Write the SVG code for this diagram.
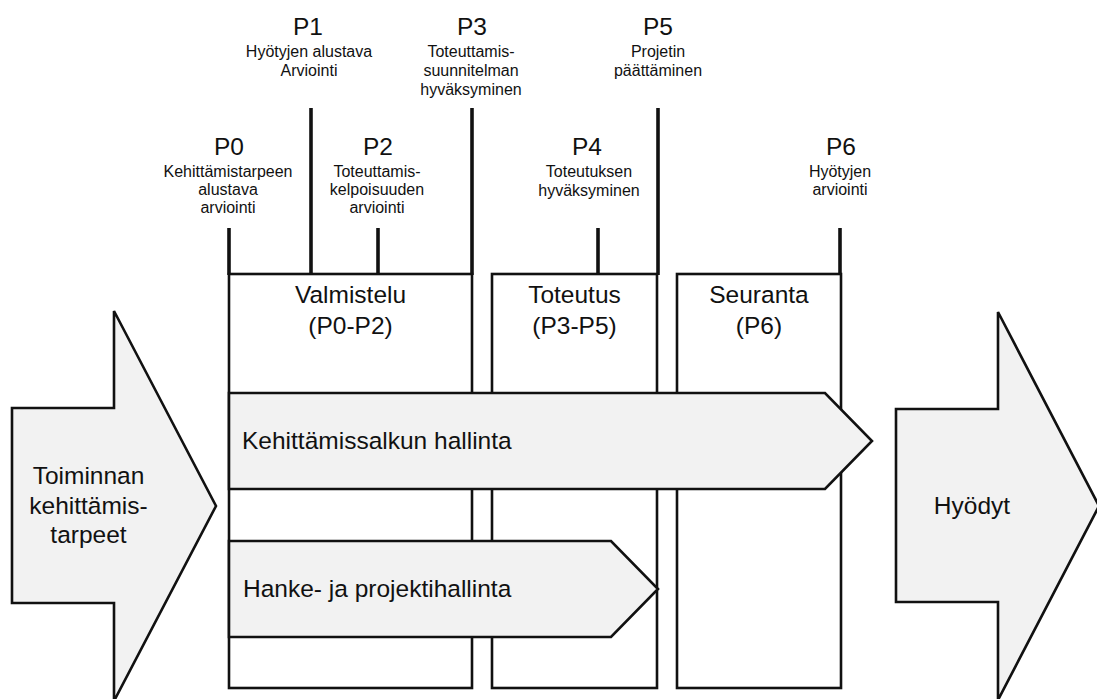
<svg xmlns="http://www.w3.org/2000/svg" width="1097" height="699" viewBox="0 0 1097 699">
  <style>
    text { font-family: "Liberation Sans", Arial, sans-serif; fill: #111; }
    .big { font-size: 24.5px; }
    .small { font-size: 16px; }
    .mid { text-anchor: middle; }
    .phase { fill: #fff; stroke: #111; stroke-width: 2.6; }
    .band { fill: #f2f2f2; stroke: #111; stroke-width: 2.6; stroke-linejoin: miter; }
    .tick { stroke: #111; stroke-width: 3.6; fill: none; }
  </style>

  <!-- Phase boxes -->
  <g id="valmistelu">
    <rect class="phase" x="229" y="274" width="243" height="414"/>
    <text class="big mid" x="350.5" y="303">Valmistelu</text>
    <text class="big mid" x="350.5" y="334">(P0-P2)</text>
  </g>
  <g id="toteutus">
    <rect class="phase" x="492" y="274" width="165" height="414"/>
    <text class="big mid" x="574.5" y="303">Toteutus</text>
    <text class="big mid" x="574.5" y="334">(P3-P5)</text>
  </g>
  <g id="seuranta">
    <rect class="phase" x="677" y="274" width="164" height="414"/>
    <text class="big mid" x="759" y="303">Seuranta</text>
    <text class="big mid" x="759" y="334">(P6)</text>
  </g>

  <!-- Input and output arrows -->
  <g id="toiminnan-kehittamistarpeet">
    <polygon class="band" points="12,408 114,408 114,311 216,506 114,701 114,603 12,603"/>
    <text class="big mid" x="88.5" y="484">Toiminnan</text>
    <text class="big mid" x="88.5" y="514">kehittämis-</text>
    <text class="big mid" x="88.5" y="543">tarpeet</text>
  </g>
  <g id="hyodyt">
    <polygon class="band" points="896,409 998,409 998,312 1099,506 998,700 998,602 896,602"/>
    <text class="big mid" x="972" y="514">Hyödyt</text>
  </g>

  <!-- Management bands across the phases -->
  <g id="kehittamissalkun-hallinta">
    <polygon class="band" points="229,393 825,393 872,441 825,489 229,489"/>
    <text class="big" x="242" y="449">Kehittämissalkun hallinta</text>
  </g>
  <g id="hanke-ja-projektihallinta">
    <polygon class="band" points="229,541 611,541 658,589 611,637 229,637"/>
    <text class="big" x="243" y="597">Hanke- ja projektihallinta</text>
  </g>

  <!-- Milestone ticks -->
  <g id="connectors">
    <line class="tick" x1="229" y1="228" x2="229" y2="275"/>
    <line class="tick" x1="311" y1="108" x2="311" y2="275"/>
    <line class="tick" x1="378" y1="228" x2="378" y2="275"/>
    <line class="tick" x1="472" y1="108" x2="472" y2="275"/>
    <line class="tick" x1="598" y1="228" x2="598" y2="275"/>
    <line class="tick" x1="658" y1="108" x2="658" y2="275"/>
    <line class="tick" x1="840" y1="228" x2="840" y2="275"/>
  </g>

  <!-- Milestone labels -->
  <g id="p0">
    <text class="big mid" x="229" y="155">P0</text>
    <text class="small mid" x="228" y="177">Kehittämistarpeen</text>
    <text class="small mid" x="228" y="195">alustava</text>
    <text class="small mid" x="228" y="213">arviointi</text>
  </g>
  <g id="p1">
    <text class="big mid" x="308" y="35">P1</text>
    <text class="small mid" x="309" y="57">Hyötyjen alustava</text>
    <text class="small mid" x="309" y="76">Arviointi</text>
  </g>
  <g id="p2">
    <text class="big mid" x="378" y="155">P2</text>
    <text class="small mid" x="377" y="177">Toteuttamis-</text>
    <text class="small mid" x="377" y="195">kelpoisuuden</text>
    <text class="small mid" x="377" y="213">arviointi</text>
  </g>
  <g id="p3">
    <text class="big mid" x="472" y="35">P3</text>
    <text class="small mid" x="471" y="57">Toteuttamis-</text>
    <text class="small mid" x="471" y="76">suunnitelman</text>
    <text class="small mid" x="471" y="95">hyväksyminen</text>
  </g>
  <g id="p4">
    <text class="big mid" x="587" y="155">P4</text>
    <text class="small mid" x="589" y="177">Toteutuksen</text>
    <text class="small mid" x="589" y="196">hyväksyminen</text>
  </g>
  <g id="p5">
    <text class="big mid" x="658" y="35">P5</text>
    <text class="small mid" x="658" y="57">Projetin</text>
    <text class="small mid" x="658" y="76">päättäminen</text>
  </g>
  <g id="p6">
    <text class="big mid" x="841" y="155">P6</text>
    <text class="small mid" x="840" y="177">Hyötyjen</text>
    <text class="small mid" x="840" y="195">arviointi</text>
  </g>
</svg>
